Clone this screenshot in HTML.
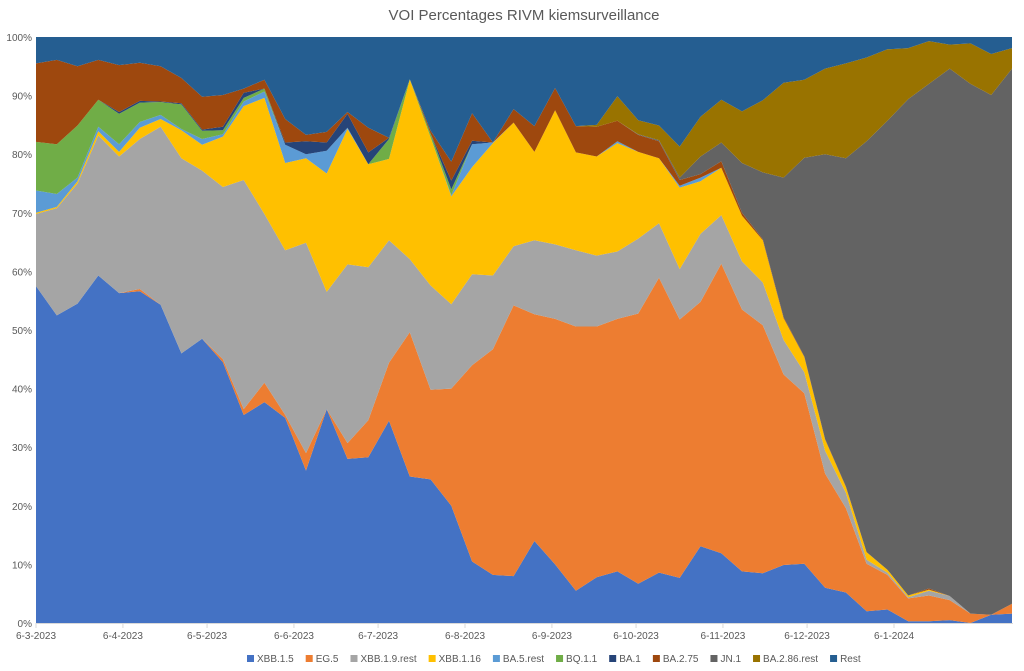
<!DOCTYPE html>
<html><head><meta charset="utf-8"><style>
body{margin:0;background:#fff;font-family:"Liberation Sans",sans-serif;}
#wrap{position:relative;width:1024px;height:671px;overflow:hidden;}
svg text{font-family:"Liberation Sans",sans-serif;}
</style></head><body>
<div id="wrap">
<svg id="chart" width="1024" height="671">
<text x="524" y="20" text-anchor="middle" font-size="15" fill="#595959">VOI Percentages RIVM kiemsurveillance</text>
<g id="areas"></g>
<g id="yaxis"></g>
<g id="xaxis"></g>
<g id="legend"></g>
</svg>
</div>
<script>
const seriesNames=["XBB.1.5","EG.5","XBB.1.9.rest","XBB.1.16","BA.5.rest","BQ.1.1","BA.1","BA.2.75","JN.1","BA.2.86.rest","Rest"];
const seriesColors=["#4472C4","#ED7D31","#A5A5A5","#FFC000","#5B9BD5","#70AD47","#264478","#9E480E","#636363","#997300","#255E91"];
const xbb15=[57.5,52.5,54.5,59.3,56.3,56.6,54.3,46,48.5,44.5,35.5,37.7,35,26,36.5,28,28.3,34.5,25,24.5,20,10.5,8.2,8,14,10,5.5,7.8,8.8,6.7,8.6,7.7,13.1,11.9,8.8,8.5,9.9,10.1,6,5.2,2,2.3,0.3,0.3,0.5,0,1.4,1.6];
const eg5=[0,0,0,0,0,0.4,0,0,0,0.5,1,3.3,0.5,3,0,2.7,6.3,9.9,24.6,15.3,20,33.5,38.5,46.2,38.7,41.9,45.1,42.8,43.1,46.1,50.3,44.1,41.7,49.4,44.7,42.3,32.5,29.1,19.5,14.4,8.1,5.9,3.9,4.4,3.4,1.6,0,1.7];
const xbb19=[12.3,18.3,20.5,23.9,23.3,25.6,30.4,33.3,28.7,29.4,39.1,28.8,28.1,35.9,20,30.5,26.1,20.9,12.5,17.8,14.4,15.5,12.6,10.1,12.6,12.7,13,12.1,11.5,12.8,9.3,8.6,11.6,8.3,8.2,7.3,5.9,3.6,3.9,2.6,0.7,0.4,0.2,0.8,0.7,0,0,0];
const xbb116=[0.2,0.2,0.4,0.7,0.8,1.9,1.3,4.8,4.4,8.6,12.6,19.8,14.9,14.4,20.2,23.1,17.6,13.9,30.6,25.3,18.4,18.3,22.6,21.1,15.1,22.9,16.7,16.9,18.5,14.8,11.1,13.9,9,8.1,7.8,7.2,3.7,2.6,1.9,1,1.3,0.5,0.3,0.2,0,0,0,0];
const ba5=[3.8,2.2,0.6,0.8,1.3,1,0.7,0.2,1,0.4,0.8,1.1,3.1,0.7,3.9,0.2,0,0,0,0,0.2,3.9,0.1,0,0,0,0,0,0.3,0,0,0.3,0.6,0,0,0,0,0,0,0,0,0,0,0,0,0,0,0];
const bq11=[8.3,8.5,8.9,4.6,5.2,3.3,2.2,4.2,1.4,0.7,0.6,0.5,0,0,0,0,0,3.4,0.1,0.6,1,0,0,0,0,0,0,0,0,0,0,0,0,0,0,0,0,0,0,0,0,0,0,0,0,0,0,0];
const ba1=[0,0,0,0,0.3,0.3,0.1,0.2,0.2,0.6,0.9,0,0.4,2.2,1.4,2.4,2,0.2,0,0,1.5,0.6,0,0,0,0,0,0,0,0,0,0,0,0,0,0,0,0,0,0,0,0,0,0,0,0,0,0];
const ba275=[13.4,14.4,10.1,6.8,8,6.5,6,4.3,5.6,5.4,0.7,1.5,4,1.1,1.8,0.3,4.2,0,0,0.5,3.2,4.7,0,2.3,4.4,3.8,4.5,5.1,3.5,2.9,2.9,1,0.6,1.1,0.5,0.2,0.2,0.1,0.1,0.1,0,0,0,0.2,0,0,0,0];
const jn1=[0,0,0,0,0,0,0,0,0,0,0,0,0,0,0,0,0,0,0,0,0,0,0,0,0,0,0,0,0,0.1,0.2,0.4,3,3.2,8.5,11.4,23.8,33.9,48.6,56,70.1,76.6,84.7,86.1,90,90.4,88.7,91.3];
const ba286=[0,0,0,0,0,0,0,0,0,0,0,0,0,0,0,0,0,0,0,0,0,0,0,0,0,0,0,0.3,4.2,2.4,2.5,5.3,6.8,7.3,8.8,12.3,16.2,13.3,14.6,16.2,14.3,12.2,8.7,7.3,4.1,6.9,7,3.5];
const xTickLabels=["6-3-2023","6-4-2023","6-5-2023","6-6-2023","6-7-2023","6-8-2023","6-9-2023","6-10-2023","6-11-2023","6-12-2023","6-1-2024"];
const yTickLabels=["0%","10%","20%","30%","40%","50%","60%","70%","80%","90%","100%"];

const NS="http://www.w3.org/2000/svg";
const L=36,R=1012,T=37,B=623;
const nPts=xbb15.length;
const base=[xbb15,eg5,xbb19,xbb116,ba5,bq11,ba1,ba275,jn1,ba286];
const rest=xbb15.map((_,i)=>Math.max(0,100-base.reduce((s,a)=>s+a[i],0)));
const series=base.concat([rest]);
const xs=i=>L+(R-L)*i/(nPts-1);
const ys=v=>B-(B-T)*v/100;
const areas=document.getElementById('areas');
let cum=new Array(nPts).fill(0);
series.forEach((arr,si)=>{
  const low=cum.slice(); const high=cum.map((c,i)=>c+arr[i]);
  let d="";
  for(let i=0;i<nPts;i++) d+=(i?"L":"M")+xs(i).toFixed(1)+","+ys(Math.min(100,high[i])).toFixed(1);
  for(let i=nPts-1;i>=0;i--) d+="L"+xs(i).toFixed(1)+","+ys(Math.min(100,low[i])).toFixed(1);
  d+="Z";
  const p=document.createElementNS(NS,"path");
  p.setAttribute("d",d);p.setAttribute("fill",seriesColors[si]);
  
  
  areas.appendChild(p);
  cum=high;
});
const yax=document.getElementById('yaxis');
yTickLabels.forEach((lab,i)=>{
  const t=document.createElementNS(NS,"text");
  t.setAttribute("x",L-4);t.setAttribute("y",ys(i*10)+4);
  t.setAttribute("text-anchor","end");t.setAttribute("font-size","10");t.setAttribute("fill","#595959");
  t.textContent=lab;
  
  
  yax.appendChild(t);
});
const xax=document.getElementById('xaxis');
const axisLine=document.createElementNS(NS,"line");
axisLine.setAttribute("x1",L);axisLine.setAttribute("x2",R+1);axisLine.setAttribute("y1",B+0.5);axisLine.setAttribute("y2",B+0.5);
axisLine.setAttribute("stroke","#d9d9d9");


xax.appendChild(axisLine);
function parseD(s){const p=s.split("-").map(Number);return Date.UTC(p[2],p[1]-1,p[0]);}
const d0=parseD(xTickLabels[0]);
const pxPerDay=(894-36)/((parseD("6-1-2024")-d0)/864e5);
xTickLabels.forEach(lab=>{
  const x=L+pxPerDay*(parseD(lab)-d0)/864e5;
  const tk=document.createElementNS(NS,"line");
  tk.setAttribute("x1",x);tk.setAttribute("x2",x);tk.setAttribute("y1",B);tk.setAttribute("y2",B+5);tk.setAttribute("stroke","#d9d9d9");
  
  
  xax.appendChild(tk);
  const t=document.createElementNS(NS,"text");
  t.setAttribute("x",x);t.setAttribute("y",B+16);t.setAttribute("text-anchor","middle");
  t.setAttribute("font-size","10");t.setAttribute("fill","#595959");
  t.textContent=lab;
  
  
  xax.appendChild(t);
});
const leg=document.getElementById('legend');
let lx=247;
seriesNames.forEach((n,i)=>{
  const g=document.createElementNS(NS,"g");
  
  
  const r=document.createElementNS(NS,"rect");
  r.setAttribute("x",lx);r.setAttribute("y",655);r.setAttribute("width",7);r.setAttribute("height",7);r.setAttribute("fill",seriesColors[i]);
  
  
  const t=document.createElementNS(NS,"text");
  t.setAttribute("x",lx+10);t.setAttribute("y",662);t.setAttribute("font-size","10");t.setAttribute("fill","#595959");
  t.textContent=n;
  
  
  g.appendChild(r);g.appendChild(t);leg.appendChild(g);
  lx+=10+t.getComputedTextLength()+12;
});
</script>
</body></html>
